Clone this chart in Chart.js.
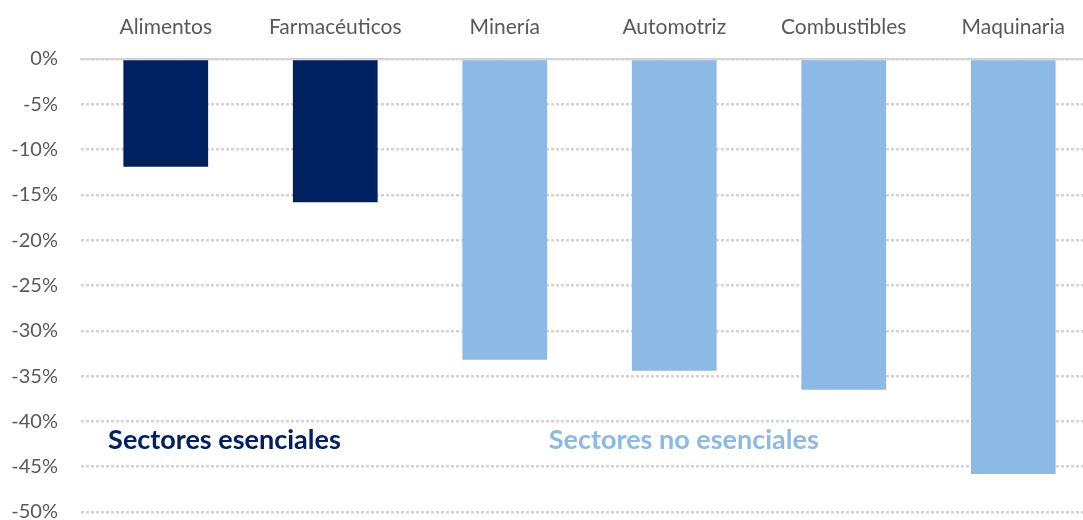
<!DOCTYPE html>
<html>
<head>
<meta charset="utf-8">
<script src="https://cdn.jsdelivr.net/npm/chart.js@4"></script>
<style>
  html,body{margin:0;padding:0;background:#fff;overflow:hidden;}
  #wrap{width:1100px;height:520px;position:relative;}
</style>
</head>
<body>
<div id="wrap"><canvas id="c"></canvas></div>
<script>
// === Data ===
const sectors = ["Alimentos","Farmacéuticos","Minería","Automotriz","Combustibles","Maquinaria"];
const changes = [-11.9,-15.8,-33.2,-34.4,-36.5,-45.8];
const essential = [true,true,false,false,false,false];
const yTicks = [0,-5,-10,-15,-20,-25,-30,-35,-40,-45,-50];

const NAVY="#002060", LIGHT="#8CB9E5", GRID="#D4D4D4", TXT="#595959";
const FONT="Lato, 'Open Sans', sans-serif";

// group labels drawn inside the plot (category units / percent)
const groupLabels = [
  {text:"Sectores esenciales", x:-0.34, y:-42.1, color:NAVY},
  {text:"Sectores no esenciales", x:2.26, y:-42.1, color:LIGHT}
];

const groupLabelPlugin = {
  id:"groupLabels",
  afterDatasetsDraw(chart){
    const {ctx, scales:{x,y}} = chart;
    ctx.save();
    ctx.font = "bold 27px " + FONT;
    ctx.textAlign = "left";
    ctx.textBaseline = "middle";
    groupLabels.forEach(g=>{
      ctx.fillStyle = g.color;
      ctx.fillText(g.text, x.getPixelForValue(g.x), y.getPixelForValue(g.y));
    });
    ctx.restore();
  }
};

new Chart(document.getElementById("c"),{
  type:"bar",
  data:{
    labels:sectors,
    datasets:[{
      data:changes,
      backgroundColor:essential.map(e=>e?NAVY:LIGHT),
      categoryPercentage:1,
      barPercentage:0.5
    }]
  },
  options:{
    responsive:true,
    maintainAspectRatio:false,
    animation:false,
    layout:{padding:{left:0,right:2,top:0,bottom:8}},
    plugins:{legend:{display:false},tooltip:{enabled:false}},
    scales:{
      x:{
        position:"top",
        grid:{display:false,drawTicks:false},
        border:{display:true,color:GRID,width:2},
        ticks:{color:TXT,font:{family:FONT,size:21},padding:19,maxRotation:0},
        afterFit(s){ s.height = 59; }
      },
      y:{
        min:-50,max:0,
        afterBuildTicks(s){ s.ticks = yTicks.map(v=>({value:v})); },
        grid:{color:GRID,lineWidth:2.5,drawTicks:false},
        border:{display:false,dash:[3,2]},
        ticks:{color:TXT,font:{family:FONT,size:20},padding:23,callback:v=>v+"%"},
        afterFit(s){ s.width = 81; s.paddingTop = 0; s.paddingBottom = 0; }
      }
    }
  },
  plugins:[groupLabelPlugin]
});
</script>
</body>
</html>
